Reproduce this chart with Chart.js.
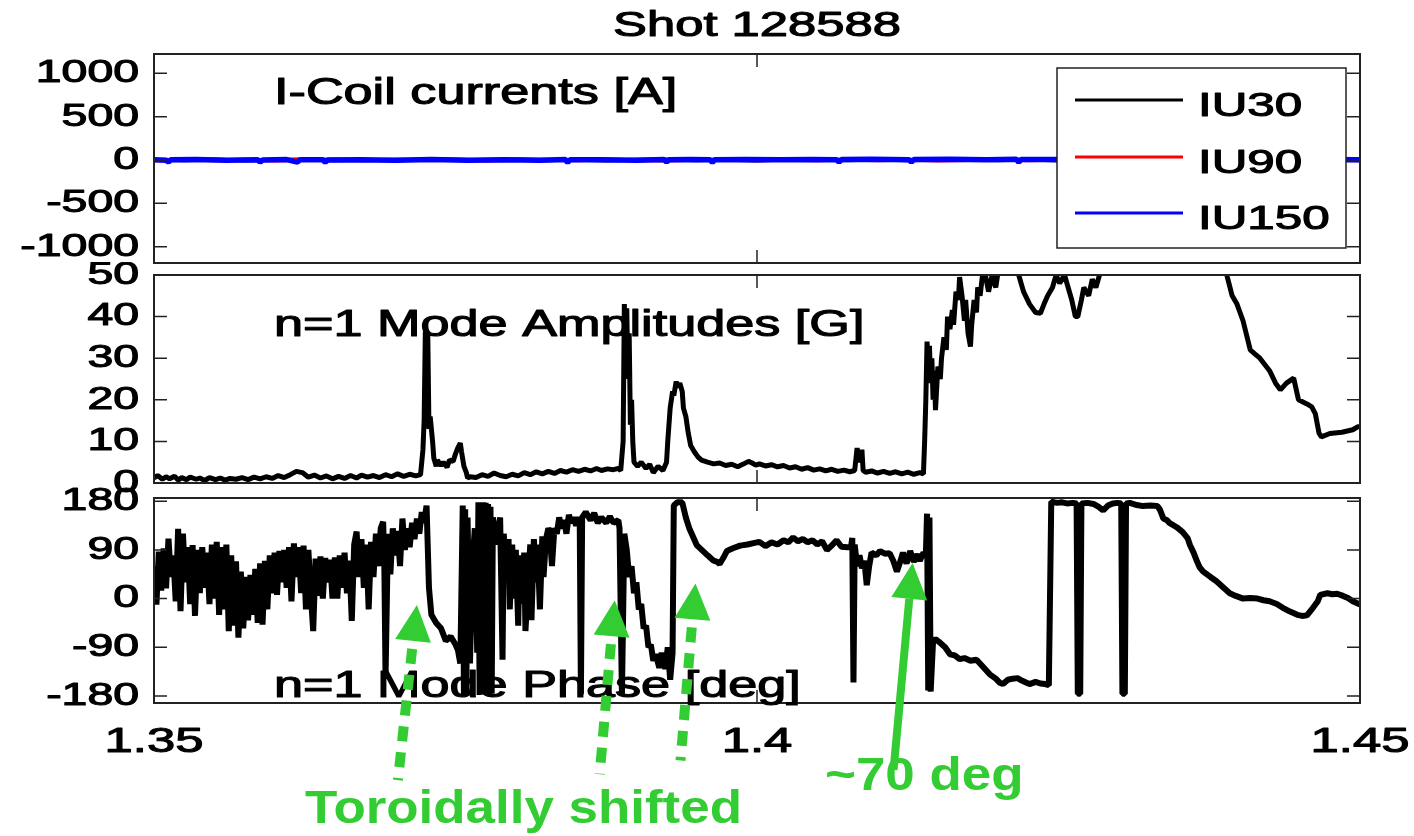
<!DOCTYPE html>
<html>
<head>
<meta charset="utf-8">
<title>Shot 128588</title>
<script src="https://cdn.jsdelivr.net/npm/chart.js@4.4.1/dist/chart.umd.min.js"></script>
<style>
  html, body { margin: 0; padding: 0; background: #fff; }
  #figure { position: relative; width: 1414px; height: 836px; overflow: hidden; background: #fff; }
  #figure canvas { position: absolute; left: 0; }
</style>
</head>
<body>
<div id="figure">
  <canvas id="coilChart" width="1414" height="272" style="top:0px"></canvas>
  <canvas id="ampChart" width="1414" height="240" style="top:262px"></canvas>
  <canvas id="phaseChart" width="1414" height="352" style="top:484px"></canvas>
</div>
<script>
// time axis in ms, labelled in seconds
const xTickValues = [1350, 1400, 1450];
const xTickLabels = ["1.35", "1.4", "1.45"];

const titleText = "Shot 128588";

// I-coil currents [A]
const coilTicks = [-1000, -500, 0, 500, 1000];
const coilTickLabels = ["-1000", "-500", "0", "500", "1000"];
const coilTimes = [1350, 1352.5, 1355, 1357.5, 1360, 1362.5, 1365, 1367.5, 1370, 1372.5, 1375, 1377.5, 1380, 1382.5,
  1385, 1387.5, 1390, 1392.5, 1395, 1397.5, 1400, 1402.5, 1405, 1407.5, 1410, 1412.5, 1415, 1417.5, 1420, 1422.5,
  1425, 1427.5, 1430, 1432.5, 1435, 1437.5, 1440, 1442.5, 1445, 1447.5, 1450];
const iu30 = [4, -3, 6, -5, 2, 7, -4, 3, -6, 5, 1, -3, 6, -2, 4, -5, 3, 6, -4, 2, -6, 5, 3, -2, 7, -4, 2, 5, -3, 6,
  -5, 3, 1, -4, 6, -2, 4, -5, 3, 2, -3];
const iu90 = [-2, 5, -4, 3, -6, 2, 5, -3, 4, -1, 6, -5, 2, 4, -3, 5, -2, -6, 3, 5, -4, 2, -3, 6, -2, 4, -5, 1, 6, -3,
  2, 5, -4, 3, -2, 6, -5, 2, 4, -3, 5];
const iu150 = [
  [1350.0, 3], [1351.0, -2], [1351.2, -22], [1351.4, 2], [1353.5, 5], [1356.0, -3], [1358.6, 4], [1358.8, -25],
  [1359.0, 1], [1361.0, 5], [1361.9, -24], [1362.1, 2], [1364.0, 3], [1364.2, -26], [1364.4, 0], [1367.0, 4],
  [1370.0, -3], [1373.0, 5], [1376.0, -2], [1379.0, 4], [1382.0, -3], [1384.1, 5], [1384.3, -27], [1384.5, 2],
  [1387.0, 4], [1390.0, -2], [1392.3, 6], [1392.5, -24], [1392.7, 3], [1394.5, 5], [1396.1, 2], [1396.3, -26],
  [1396.5, 4], [1399.0, 6], [1402.0, 2], [1404.5, 7], [1406.6, 3], [1406.8, -25], [1407.0, 5], [1409.5, 8],
  [1412.6, 4], [1412.8, -24], [1413.0, 6], [1416.0, 9], [1419.0, 4], [1421.5, 8], [1421.7, -25], [1421.9, 5],
  [1425.0, 7], [1430.0, 3], [1435.0, 6], [1440.0, 2], [1445.0, 5], [1450.0, 3]
];

// n=1 mode amplitude [G]
const ampTicks = [0, 10, 20, 30, 40, 50];
const ampTickLabels = ["0", "10", "20", "30", "40", "50"];
const ampSeries = [
  [1350.0, 1.2], [1350.3, 1.8], [1350.7, 0.9], [1351.0, 1.5], [1351.3, 1.0], [1351.7, 1.6], [1352.0, 0.7],
  [1352.3, 1.3], [1352.7, 0.8], [1353.0, 1.4], [1353.5, 0.9], [1353.8, 1.2], [1354.2, 0.6], [1354.6, 1.3],
  [1355.1, 0.8], [1355.5, 1.2], [1355.9, 0.7], [1356.3, 1.1], [1356.8, 0.9], [1357.3, 1.3], [1357.8, 0.8],
  [1358.3, 1.4], [1358.8, 1.0], [1359.3, 1.5], [1359.8, 1.1], [1360.3, 1.8], [1360.8, 1.3], [1361.3, 2.0],
  [1361.8, 2.8], [1362.3, 2.5], [1362.8, 1.4], [1363.3, 1.9], [1363.8, 1.2], [1364.3, 1.7], [1364.8, 1.0],
  [1365.3, 1.6], [1365.8, 1.1], [1366.3, 1.8], [1366.8, 1.2], [1367.2, 1.9], [1367.7, 1.4], [1368.2, 1.8],
  [1368.7, 1.3], [1369.2, 2.0], [1369.7, 1.5], [1370.2, 2.2], [1370.7, 1.6], [1371.2, 2.1], [1371.7, 1.7],
  [1372.1, 2.0], [1372.3, 8], [1372.4, 15], [1372.5, 36.5], [1372.6, 20], [1372.7, 36], [1372.8, 13],
  [1372.9, 16], [1373.1, 10], [1373.2, 6], [1373.4, 4], [1373.5, 5.5], [1373.8, 4.2], [1374.0, 5.0],
  [1374.3, 3.8], [1374.5, 5.5], [1374.8, 5.2], [1375.0, 7.0], [1375.2, 8.5], [1375.4, 9.6], [1375.5, 7.5],
  [1375.7, 4], [1375.9, 2.5], [1376.0, 1.2], [1376.2, 1.5], [1376.7, 1.3], [1377.2, 2.0], [1377.7, 1.6],
  [1378.2, 2.4], [1378.7, 1.8], [1379.2, 1.5], [1379.7, 2.1], [1380.2, 1.7], [1380.7, 2.5], [1381.2, 2.0],
  [1381.7, 2.7], [1382.2, 2.2], [1382.7, 2.8], [1383.2, 2.3], [1383.7, 3.0], [1384.2, 2.6], [1384.7, 3.2],
  [1385.2, 2.8], [1385.7, 3.3], [1386.2, 2.9], [1386.7, 3.5], [1387.1, 3.0], [1387.6, 3.4], [1388.1, 3.2],
  [1388.5, 3.5], [1388.7, 3.0], [1388.9, 10], [1389.0, 43], [1389.1, 30], [1389.2, 42], [1389.3, 25],
  [1389.4, 36], [1389.5, 14], [1389.6, 20], [1389.7, 10], [1389.8, 5.0], [1390.1, 4.0], [1390.4, 5.0],
  [1390.8, 3.5], [1391.1, 4.5], [1391.4, 2.5], [1391.8, 4.0], [1392.0, 3.5], [1392.2, 3.0], [1392.5, 5],
  [1392.6, 10], [1392.8, 18], [1393.0, 22], [1393.1, 21], [1393.3, 24.4], [1393.4, 23], [1393.6, 24],
  [1393.8, 22], [1393.9, 18], [1394.1, 16], [1394.3, 12], [1394.5, 9], [1394.8, 7.5], [1395.1, 6.3],
  [1395.4, 5.5], [1395.9, 5.0], [1396.4, 4.6], [1396.9, 4.8], [1397.4, 4.2], [1397.9, 4.5], [1398.4, 3.9],
  [1398.9, 4.6], [1399.3, 5.2], [1399.6, 4.8], [1399.9, 4.3], [1400.2, 4.6], [1400.7, 4.1], [1401.2, 4.4],
  [1401.7, 3.9], [1402.2, 4.2], [1402.7, 3.6], [1403.2, 3.9], [1403.7, 3.3], [1404.2, 3.7], [1404.7, 3.1],
  [1405.2, 3.4], [1405.7, 2.9], [1406.2, 3.3], [1406.7, 2.8], [1407.2, 3.1], [1407.7, 2.7], [1408.1, 3.0],
  [1408.3, 8.4], [1408.5, 5], [1408.7, 8], [1408.8, 3], [1409.0, 2.6], [1409.5, 2.9], [1410.0, 2.4],
  [1410.5, 2.8], [1411.0, 2.3], [1411.5, 2.7], [1412.0, 2.2], [1412.5, 2.6], [1413.0, 2.1], [1413.5, 2.5],
  [1413.8, 2.2], [1413.9, 10], [1414.0, 20], [1414.1, 34], [1414.2, 28], [1414.3, 33], [1414.4, 24],
  [1414.5, 30], [1414.6, 20], [1414.7, 27], [1414.8, 17.5], [1415.0, 28], [1415.2, 25], [1415.3, 30],
  [1415.5, 35], [1415.7, 32], [1415.8, 40], [1416.0, 37], [1416.2, 41.6], [1416.3, 38], [1416.5, 46],
  [1416.7, 44], [1416.8, 49.5], [1417.0, 45], [1417.2, 39], [1417.3, 44], [1417.5, 36], [1417.7, 32.8],
  [1417.8, 38], [1418.0, 44], [1418.2, 41], [1418.3, 47], [1418.5, 45], [1418.7, 50], [1418.8, 52],
  [1419.2, 46], [1419.5, 50], [1419.8, 47], [1420.1, 53], [1421.0, 56], [1421.4, 54], [1421.7, 50],
  [1422.1, 46], [1422.6, 43], [1423.1, 41], [1423.5, 40.8], [1423.8, 43], [1424.1, 45], [1424.5, 47],
  [1424.8, 50], [1425.1, 48], [1425.5, 50], [1425.8, 47], [1426.1, 44], [1426.4, 40], [1426.6, 40],
  [1426.9, 44], [1427.1, 47], [1427.5, 45], [1427.8, 49], [1428.1, 47], [1428.4, 50], [1428.9, 54],
  [1432.6, 58], [1436.7, 57], [1438.8, 52], [1439.0, 49.5], [1439.4, 45], [1439.8, 43], [1440.3, 39],
  [1440.9, 32], [1441.3, 31], [1441.7, 30], [1442.1, 28.5], [1442.5, 27], [1443.0, 24], [1443.4, 22.4],
  [1443.9, 24], [1444.5, 25.2], [1444.9, 20], [1445.6, 19], [1446.0, 18.3], [1446.3, 16.6], [1446.6, 12],
  [1446.8, 11.1], [1447.5, 11.9], [1448.5, 12.2], [1449.4, 12.8], [1449.8, 13.5], [1450.0, 13.5]
];

// n=1 mode phase [deg]
const phaseTicks = [-180, -90, 0, 90, 180];
const phaseTickLabels = ["-180", "-90", "0", "90", "180"];
const phaseSeries = [
  [1350.0, 60], [1350.2, -11], [1350.4, 87], [1350.6, 15], [1350.8, 93], [1351.0, 19], [1351.2, 111],
  [1351.4, 40], [1351.6, 80], [1351.8, -5], [1352.0, 129], [1352.2, -23], [1352.4, 120], [1352.6, 30],
  [1352.8, 95], [1353.0, -10], [1353.2, 99], [1353.4, -32], [1353.6, 90], [1353.8, 10], [1354.0, 95],
  [1354.2, 20], [1354.4, 85], [1354.6, -10], [1354.8, 100], [1355.0, 0], [1355.2, 105], [1355.4, -30],
  [1355.6, 95], [1355.8, -20], [1356.0, 100], [1356.2, -60], [1356.4, 80], [1356.6, -50], [1356.8, 69],
  [1357.0, -72], [1357.2, 50], [1357.4, -55], [1357.6, 40], [1357.8, -40], [1358.0, 44], [1358.2, -30],
  [1358.4, 55], [1358.6, -45], [1358.8, 65], [1359.0, -48], [1359.2, 70], [1359.4, -20], [1359.6, 80],
  [1359.8, 10], [1360.0, 85], [1360.2, 7], [1360.4, 88], [1360.6, 30], [1360.8, 90], [1361.0, 20],
  [1361.2, 95], [1361.4, -5], [1361.6, 102], [1361.8, 40], [1362.0, 95], [1362.2, 10], [1362.4, 98],
  [1362.6, -20], [1362.8, 90], [1363.0, 10], [1363.2, -60], [1363.4, 74], [1363.6, 5], [1363.8, 78],
  [1364.0, 0], [1364.2, 75], [1364.4, 30], [1364.6, 72], [1364.8, 0], [1365.0, 76], [1365.2, 0],
  [1365.4, 80], [1365.6, 20], [1365.8, 85], [1366.0, 10], [1366.2, 70], [1366.4, -41], [1366.6, 100],
  [1366.8, 124], [1367.0, 40], [1367.2, 110], [1367.4, 20], [1367.6, 100], [1367.8, -20], [1368.0, 105],
  [1368.2, 40], [1368.4, 120], [1368.6, 60], [1368.8, 130], [1369.0, 142], [1369.1, 60], [1369.2, -146],
  [1369.4, 120], [1369.6, 45], [1369.8, 130], [1370.0, 80], [1370.2, 125], [1370.4, 60], [1370.6, 148],
  [1370.8, 90], [1371.0, 130], [1371.2, 95], [1371.4, 140], [1371.6, 110], [1371.8, 148], [1372.0, 120],
  [1372.2, 160], [1372.4, 140], [1372.6, 172], [1372.8, 20], [1373.0, -30], [1373.4, -45], [1373.8, -55],
  [1374.2, -78], [1374.6, -70], [1375.0, -85], [1375.2, -95], [1375.4, -120], [1375.6, 172], [1375.7, -178],
  [1375.8, 165], [1375.9, -175], [1376.0, 150], [1376.2, -120], [1376.4, 60], [1376.6, 130], [1376.8, -100],
  [1376.9, 178], [1377.0, -178], [1377.1, 176], [1377.2, -177], [1377.3, 178], [1377.4, -176], [1377.5, 177],
  [1377.6, -178], [1377.7, 175], [1377.8, -177], [1377.9, 170], [1378.0, -176], [1378.1, 150], [1378.4, 100],
  [1378.7, 150], [1378.9, -113], [1379.0, 120], [1379.2, 40], [1379.4, 110], [1379.5, -20], [1379.7, 100],
  [1379.9, 0], [1380.0, 90], [1380.2, -50], [1380.3, 80], [1380.5, -10], [1380.7, 85], [1380.8, -60],
  [1381.0, 20], [1381.2, 100], [1381.3, -40], [1381.5, 110], [1381.7, 30], [1381.8, 100], [1382.0, -20],
  [1382.2, 115], [1382.3, 40], [1382.5, 110], [1382.7, 130], [1382.8, 125], [1383.0, 60], [1383.2, 130],
  [1383.4, 120], [1383.6, 150], [1383.8, 130], [1384.0, 145], [1384.2, 120], [1384.4, 155], [1384.6, 140],
  [1384.8, 150], [1385.0, 135], [1385.2, 150], [1385.3, 145], [1385.4, -177], [1385.5, 150], [1385.8, 160],
  [1386.2, 145], [1386.5, 158], [1386.8, 140], [1387.1, 150], [1387.5, 140], [1387.8, 152], [1388.1, 140],
  [1388.5, 145], [1388.6, 130], [1388.8, -178], [1389.0, 120], [1389.2, 90], [1389.4, 40], [1389.6, 60],
  [1389.8, 10], [1390.0, 30], [1390.2, -20], [1390.4, -10], [1390.6, -55], [1390.8, -50], [1391.0, -90],
  [1391.2, -85], [1391.4, -115], [1391.6, -103], [1391.9, -128], [1392.1, -100], [1392.4, -130],
  [1392.6, -90], [1392.8, -150], [1393.0, -100], [1393.1, 172], [1393.4, 178], [1393.8, 178], [1394.1, 150],
  [1394.4, 129], [1395.0, 99], [1395.9, 80], [1396.4, 70], [1396.7, 68], [1396.9, 64], [1397.2, 75],
  [1397.5, 88], [1398.0, 93], [1398.6, 98], [1399.2, 100], [1399.8, 103], [1400.2, 105], [1400.7, 97],
  [1401.2, 104], [1401.7, 100], [1402.2, 108], [1402.6, 104], [1403.0, 113], [1403.4, 106], [1403.8, 110],
  [1404.2, 104], [1404.6, 108], [1405.0, 100], [1405.4, 106], [1405.8, 90], [1406.2, 98], [1406.6, 108],
  [1407.0, 96], [1407.5, 95], [1407.8, 96], [1407.9, 112], [1408.0, -155], [1408.1, 100], [1408.3, 60],
  [1408.5, 80], [1408.7, 56], [1408.9, 70], [1409.1, 25], [1409.3, 60], [1409.5, 85], [1409.9, 80],
  [1410.2, 88], [1410.6, 83], [1411.0, 84], [1411.3, 70], [1411.6, 50], [1411.9, 70], [1412.1, 85],
  [1412.4, 65], [1412.7, 88], [1413.0, 68], [1413.3, 82], [1413.5, 70], [1413.8, 85], [1414.0, 80],
  [1414.1, 157], [1414.2, -170], [1414.3, 150], [1414.4, -172], [1414.6, -78], [1414.8, -75], [1415.2, -82],
  [1415.6, -90], [1416.0, -103], [1416.4, -105], [1416.8, -112], [1417.2, -110], [1417.7, -115],
  [1418.2, -113], [1418.7, -125], [1419.3, -140], [1419.8, -148], [1420.1, -155], [1420.4, -158],
  [1420.8, -150], [1421.2, -148], [1421.6, -147], [1422.0, -152], [1422.3, -155], [1422.6, -158],
  [1423.1, -154], [1423.5, -157], [1423.9, -158], [1424.2, -160], [1424.4, 179], [1424.9, 177],
  [1425.3, 178], [1425.7, 176], [1426.2, 177], [1426.5, 176], [1426.6, -176], [1426.8, -176], [1426.9, 176],
  [1427.4, 177], [1427.9, 175], [1428.3, 170], [1428.7, 163], [1429.1, 172], [1429.5, 176], [1429.9, 177],
  [1430.2, 176], [1430.3, -176], [1430.5, -176], [1430.6, 176], [1430.9, 177], [1431.5, 173], [1432.0, 171],
  [1432.6, 172], [1433.2, 171], [1433.4, 165], [1433.7, 148], [1434.0, 145], [1434.2, 140], [1434.8, 132],
  [1435.3, 123], [1435.7, 112], [1435.9, 99], [1436.2, 85], [1436.5, 68], [1436.7, 58], [1437.0, 50],
  [1437.6, 40], [1438.1, 32], [1438.6, 22], [1439.2, 10], [1439.7, 5], [1440.3, 0], [1440.9, 1],
  [1441.5, 0], [1442.0, -3], [1442.5, -5], [1443.1, -10], [1443.6, -17], [1444.2, -24], [1444.8, -30],
  [1445.2, -32], [1445.6, -31], [1446.1, -17], [1446.5, -5], [1446.7, 7], [1447.3, 10], [1447.7, 8],
  [1448.1, 9], [1448.6, 5], [1449.0, 1], [1449.4, -5], [1450.0, -11]
];

// arrow tips in (ms, deg) on the phase panel
const shiftArrowTips = [[1371.8, -12], [1388.2, -3], [1394.9, 28]];
const phaseArrowTip = [1412.9, 66];

const FONT = '"Liberation Sans", Arial, Helvetica, sans-serif';
const WIDE = 1.45;
const FRAME = "#222";
const GREEN = "#33cc33";
const TICK_LEN = 13;
const AXIS_LEFT = 154;

function toXY(series) {
  return series.map(([x, y]) => ({ x, y }));
}

function zipXY(xs, ys) {
  return xs.map((x, i) => ({ x, y: ys[i] }));
}

// text drawn with a horizontal stretch; "heavy" adds a thin outline for a medium weight
function wideText(ctx, text, x, y, align, size, opts = {}) {
  const { stretch = WIDE, weight = "normal", baseline = "middle", heavy = 1.1 } = opts;
  ctx.save();
  ctx.font = `${weight} ${size}px ${FONT}`;
  ctx.textAlign = align;
  ctx.textBaseline = baseline;
  ctx.translate(x, y);
  ctx.scale(stretch, 1);
  ctx.fillText(text, 0, 0);
  if (heavy > 0) {
    ctx.strokeStyle = ctx.fillStyle;
    ctx.lineWidth = heavy;
    ctx.lineJoin = "round";
    ctx.strokeText(text, 0, 0);
  }
  ctx.restore();
}

function panelOptions(yMin, yMax, padding) {
  return {
    responsive: false,
    devicePixelRatio: 1,
    animation: false,
    events: [],
    layout: { padding },
    plugins: { legend: { display: false }, tooltip: { enabled: false }, title: { display: false } },
    elements: {
      point: { radius: 0 },
      line: { tension: 0, borderJoinStyle: "bevel", borderCapStyle: "butt" },
    },
    scales: {
      x: {
        type: "linear", min: 1350, max: 1450,
        ticks: { display: false }, grid: { display: false }, border: { display: false },
        afterFit: (s) => { s.height = 0; },
      },
      y: {
        type: "linear", min: yMin, max: yMax,
        ticks: { display: false }, grid: { display: false }, border: { display: false },
        afterFit: (s) => { s.width = AXIS_LEFT; },
      },
    },
  };
}

function lineSet(label, data, color, width, order) {
  return { label, data, borderColor: color, backgroundColor: color, borderWidth: width, fill: false, clip: 0, order };
}

// frame, inside ticks, tick labels and caption, Matlab style
function panelFrame(cfg) {
  return {
    id: "panelFrame",
    afterDatasetsDraw(chart) {
      const { ctx, chartArea: a } = chart;
      const x = chart.scales.x;
      const y = chart.scales.y;
      ctx.save();
      ctx.strokeStyle = FRAME;
      ctx.lineWidth = 1.5;
      ctx.beginPath();
      cfg.ticks.forEach((v) => {
        const py = y.getPixelForValue(v);
        ctx.moveTo(a.left, py);
        ctx.lineTo(a.left + TICK_LEN, py);
        ctx.moveTo(a.right, py);
        ctx.lineTo(a.right - TICK_LEN, py);
      });
      xTickValues.forEach((v) => {
        const px = x.getPixelForValue(v);
        ctx.moveTo(px, a.top);
        ctx.lineTo(px, a.top + TICK_LEN);
        ctx.moveTo(px, a.bottom);
        ctx.lineTo(px, a.bottom - TICK_LEN);
      });
      ctx.stroke();
      ctx.lineWidth = 2;
      ctx.strokeRect(a.left, a.top, a.right - a.left, a.bottom - a.top);

      ctx.fillStyle = "#000";
      cfg.ticks.forEach((v, i) => {
        wideText(ctx, cfg.labels[i], a.left - 15, y.getPixelForValue(v), "right", 32);
      });
      wideText(ctx, cfg.caption, a.left + 120, a.top + cfg.captionDy, "left", 36);
      if (cfg.extra) cfg.extra(chart);
      ctx.restore();
    },
  };
}

function drawTitleAndLegend(chart) {
  const { ctx, chartArea: a } = chart;
  ctx.fillStyle = "#000";
  wideText(ctx, titleText, (a.left + a.right) / 2, 26, "center", 35);

  const box = { left: a.right - 303, top: a.top + 14, right: a.right - 14, bottom: a.top + 194 };
  ctx.fillStyle = "#fff";
  ctx.fillRect(box.left, box.top, box.right - box.left, box.bottom - box.top);
  ctx.strokeStyle = FRAME;
  ctx.lineWidth = 1.5;
  ctx.strokeRect(box.left, box.top, box.right - box.left, box.bottom - box.top);

  const rows = [32, 89, 145];
  chart.data.datasets.forEach((ds, i) => {
    const ly = box.top + rows[i];
    ctx.strokeStyle = ds.borderColor;
    ctx.lineWidth = 3;
    ctx.beginPath();
    ctx.moveTo(box.left + 18, ly);
    ctx.lineTo(box.left + 126, ly);
    ctx.stroke();
    ctx.fillStyle = "#000";
    wideText(ctx, ds.label, box.left + 141, ly + 7, "left", 34);
  });
}

function greenArrow(ctx, tipX, tipY, tailX, tailY, dotted) {
  const dx = tipX - tailX;
  const dy = tipY - tailY;
  const len = Math.hypot(dx, dy);
  const ux = dx / len;
  const uy = dy / len;
  const head = 36;
  const half = 18;
  const bx = tipX - ux * head;
  const by = tipY - uy * head;
  const gap = dotted ? 8 : 0;

  ctx.strokeStyle = GREEN;
  ctx.fillStyle = GREEN;
  ctx.lineWidth = dotted ? 10 : 8;
  ctx.setLineDash(dotted ? [15, 11] : []);
  ctx.beginPath();
  ctx.moveTo(bx - ux * gap, by - uy * gap);
  ctx.lineTo(tailX, tailY);
  ctx.stroke();
  ctx.setLineDash([]);

  ctx.beginPath();
  ctx.moveTo(tipX, tipY);
  ctx.lineTo(bx - uy * half, by + ux * half);
  ctx.lineTo(bx + uy * half, by - ux * half);
  ctx.closePath();
  ctx.fill();
}

function drawTimeAxisAndNotes(chart) {
  const { ctx, chartArea: a } = chart;
  const x = chart.scales.x;
  const y = chart.scales.y;

  ctx.fillStyle = "#000";
  xTickValues.forEach((v, i) => {
    wideText(ctx, xTickLabels[i], x.getPixelForValue(v), a.bottom + 39, "center", 35);
  });

  // "Toroidally shifted" arrows (dotted) and the ~70 deg arrow (solid)
  const tails = [[-19, 175], [-15, 174], [-15, 177]];
  shiftArrowTips.forEach(([t, deg], i) => {
    const px = x.getPixelForValue(t);
    const py = y.getPixelForValue(deg);
    greenArrow(ctx, px, py, px + tails[i][0], py + tails[i][1], true);
  });
  const qx = x.getPixelForValue(phaseArrowTip[0]);
  const qy = y.getPixelForValue(phaseArrowTip[1]);
  greenArrow(ctx, qx, qy, qx - 19, qy + 207, false);

  ctx.fillStyle = GREEN;
  const note = { stretch: 1.15, weight: "bold", baseline: "alphabetic", heavy: 0 };
  wideText(ctx, "Toroidally shifted", 305, a.bottom + 120, "left", 46, note);
  wideText(ctx, "~70 deg", 825, a.bottom + 87, "left", 46, note);
}

new Chart(document.getElementById("coilChart"), {
  type: "line",
  data: {
    datasets: [
      lineSet("IU30", zipXY(coilTimes, iu30), "#000000", 4, 2),
      lineSet("IU90", zipXY(coilTimes, iu90), "#ff0000", 4, 1),
      lineSet("IU150", toXY(iu150), "#0000ff", 5.5, 0),
    ],
  },
  options: panelOptions(-1188, 1223, { top: 54, right: 54, bottom: 9, left: 0 }),
  plugins: [panelFrame({
    ticks: coilTicks, labels: coilTickLabels,
    caption: "I-Coil currents [A]", captionDy: 40,
    extra: drawTitleAndLegend,
  })],
});

new Chart(document.getElementById("ampChart"), {
  type: "line",
  data: { datasets: [lineSet("n=1 amplitude", toXY(ampSeries), "#000000", 5, 0)] },
  options: panelOptions(0, 50, { top: 13, right: 54, bottom: 19, left: 0 }),
  plugins: [panelFrame({
    ticks: ampTicks, labels: ampTickLabels,
    caption: "n=1 Mode Amplitudes [G]", captionDy: 51,
  })],
});

new Chart(document.getElementById("phaseChart"), {
  type: "line",
  data: { datasets: [lineSet("n=1 phase", toXY(phaseSeries), "#000000", 6, 0)] },
  options: panelOptions(-193, 186, { top: 14, right: 54, bottom: 133, left: 0 }),
  plugins: [panelFrame({
    ticks: phaseTicks, labels: phaseTickLabels,
    caption: "n=1 Mode Phase [deg]", captionDy: 189,
    extra: drawTimeAxisAndNotes,
  })],
});
</script>
</body>
</html>
